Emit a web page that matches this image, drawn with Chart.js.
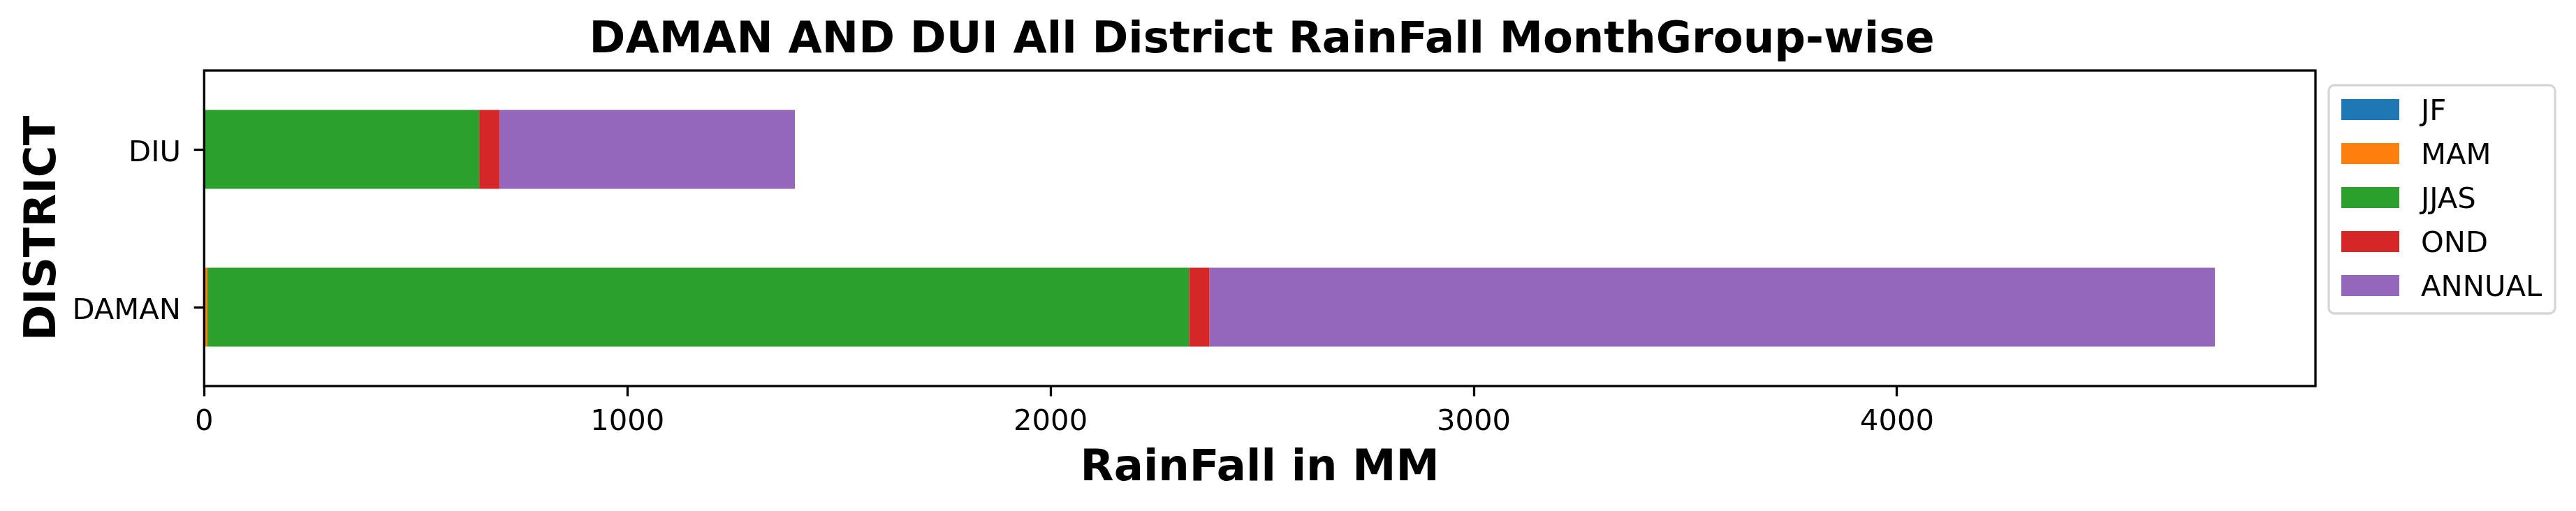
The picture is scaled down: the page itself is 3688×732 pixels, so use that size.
<!DOCTYPE html>
<html><head><meta charset="utf-8">
<script src="https://cdn.jsdelivr.net/npm/chart.js@4.4.1/dist/chart.umd.min.js"></script>
<style>html,body{margin:0;padding:0;background:#fff;}canvas{display:block;}</style>
</head><body>
<canvas id="c" width="3688" height="732"></canvas>
<script>
// ---- data ----
const districts = ['DAMAN', 'DIU'];
const seriesNames = ['JF', 'MAM', 'JJAS', 'OND', 'ANNUAL'];
const JF = [0.3, 0.4];
const MAM = [7.5, 1.0];
const JJAS = [2319.5, 648.6];
const OND = [48.3, 47.9];
const ANNUAL = [2375.6, 697.9];
const xTickValues = [0, 1000, 2000, 3000, 4000];
const titleText = 'DAMAN AND DUI All District RainFall MonthGroup-wise';
const xLabel = 'RainFall in MM';
const yLabel = 'DISTRICT';

const seriesValues = [JF, MAM, JJAS, OND, ANNUAL];
const colors = ['#1f77b4', '#ff7f0e', '#2ca02c', '#d62728', '#9467bd'];
const totals = districts.map((_, i) => seriesValues.reduce((s, arr) => s + arr[i], 0));
const xMax = Math.max(...totals) * 1.05;

const FONT = 'DejaVu Sans';
Chart.defaults.font.family = FONT;
Chart.defaults.color = '#000';

const spinePlugin = {
  id: 'spines',
  afterDatasetsDraw(chart) {
    const {ctx, chartArea: a} = chart;
    ctx.save();
    ctx.strokeStyle = '#000';
    ctx.lineWidth = 3.3;
    ctx.strokeRect(a.left, a.top, a.right - a.left, a.bottom - a.top);
    ctx.restore();
  }
};

const titlePlugin = {
  id: 'mplTitle',
  afterDraw(chart) {
    const {ctx, chartArea: a} = chart;
    ctx.save();
    ctx.font = 'bold 62.5px "' + FONT + '"';
    ctx.fillStyle = '#000';
    ctx.textAlign = 'center';
    ctx.textBaseline = 'alphabetic';
    ctx.fillText(titleText, (a.left + a.right) / 2 + 3, a.top - 26);
    ctx.restore();
  }
};

const legendPlugin = {
  id: 'mplLegend',
  afterDraw(chart) {
    const {ctx, chartArea: a} = chart;
    const x0 = a.right + 19, y0 = a.top + 21, w = 324, h = 327, r = 8;
    ctx.save();
    ctx.beginPath();
    ctx.moveTo(x0 + r, y0);
    ctx.arcTo(x0 + w, y0, x0 + w, y0 + h, r);
    ctx.arcTo(x0 + w, y0 + h, x0, y0 + h, r);
    ctx.arcTo(x0, y0 + h, x0, y0, r);
    ctx.arcTo(x0, y0, x0 + w, y0, r);
    ctx.closePath();
    ctx.fillStyle = '#fff';
    ctx.fill();
    ctx.strokeStyle = '#d6d6d6';
    ctx.lineWidth = 3.3;
    ctx.stroke();
    const fs = 41.7;
    ctx.font = fs + 'px "' + FONT + '"';
    ctx.textBaseline = 'alphabetic';
    ctx.textAlign = 'left';
    chart.data.datasets.forEach((ds, i) => {
      const cy = y0 + 35 + i * 63;
      ctx.fillStyle = ds.backgroundColor;
      ctx.fillRect(x0 + 18, cy - 15, 83, 30);
      ctx.fillStyle = '#000';
      ctx.fillText(ds.label, x0 + 132, cy + 0.729 * fs / 2);
    });
    ctx.restore();
  }
};

new Chart(document.getElementById('c'), {
  type: 'bar',
  data: {
    labels: districts,
    datasets: seriesNames.map((name, i) => ({
      label: name,
      data: seriesValues[i],
      backgroundColor: colors[i],
      borderWidth: 0,
      barPercentage: 0.5,
      categoryPercentage: 1.0
    }))
  },
  options: {
    indexAxis: 'y',
    responsive: false,
    animation: false,
    devicePixelRatio: 1,
    layout: {padding: {top: 101, right: 373, bottom: 0, left: 0}},
    plugins: {
      legend: {display: false},
      tooltip: {enabled: false},
      title: {display: false}
    },
    scales: {
      x: {
        stacked: true,
        min: 0,
        max: xMax,
        afterFit(s) { s.height = 179; },
        afterBuildTicks(s) { s.ticks = xTickValues.map(v => ({value: v})); },
        grid: {display: true, drawOnChartArea: false, drawTicks: true, tickLength: 14.6, tickWidth: 3.3, tickColor: '#000'},
        border: {display: false},
        ticks: {font: {size: 41.7, family: FONT}, color: '#000', padding: 12.4, maxRotation: 0, autoSkip: false,
                callback: v => String(v)},
        title: {display: true, text: xLabel, color: '#000', font: {size: 62.5, weight: 'bold', family: FONT}, padding: {top: 0, bottom: 23}}
      },
      y: {
        stacked: true,
        reverse: true,
        afterFit(s) { s.width = 292.3; },
        grid: {display: true, offset: false, drawOnChartArea: false, drawTicks: true, tickLength: 14.6, tickWidth: 3.3, tickColor: '#000'},
        border: {display: false},
        ticks: {font: {size: 41.7, family: FONT}, color: '#000', padding: 18.7, labelOffset: 5.8},
        title: {display: true, text: yLabel, color: '#000', font: {size: 62.5, weight: 'bold', family: FONT}, padding: {top: 25.5, bottom: 0}}
      }
    }
  },
  plugins: [spinePlugin, titlePlugin, legendPlugin]
});
</script>
</body></html>
